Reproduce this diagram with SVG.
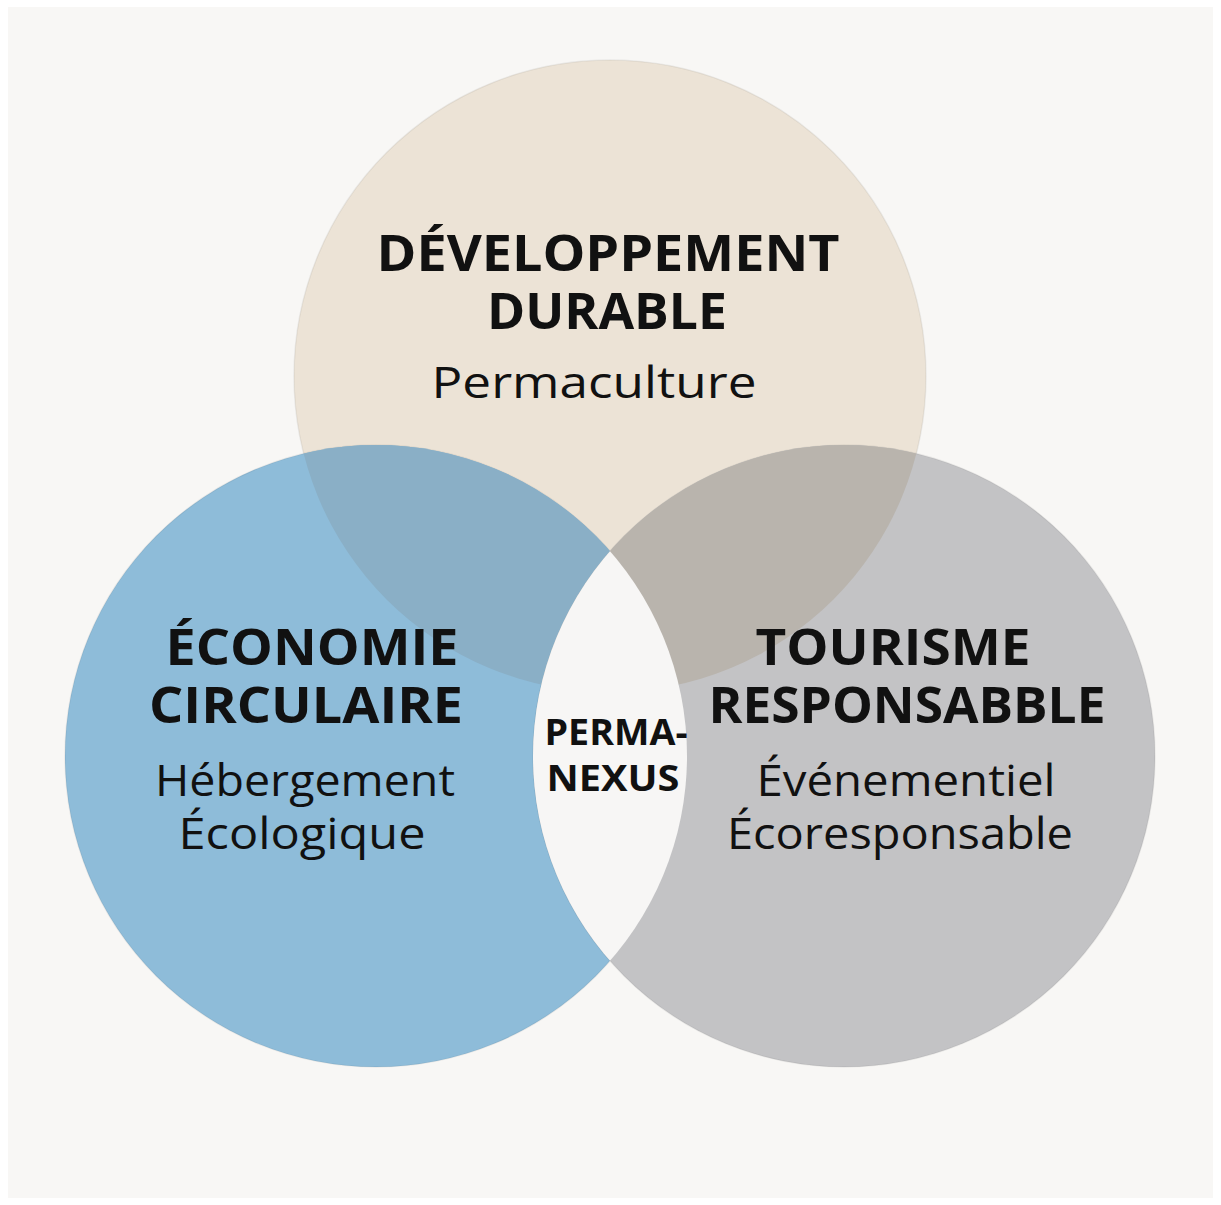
<svg xmlns="http://www.w3.org/2000/svg" width="1221" height="1205" viewBox="0 0 1221 1205">
  <style>
    .title { font-family: "Open Sans", "Liberation Sans", sans-serif; font-weight: 700; font-size: 50px; fill: #111111; text-anchor: middle; }
    .sub { font-family: "Open Sans", "Liberation Sans", sans-serif; font-weight: 400; font-size: 44px; fill: #111111; text-anchor: middle; }
    .core { font-family: "Open Sans", "Liberation Sans", sans-serif; font-weight: 700; font-size: 36px; fill: #111111; text-anchor: middle; }
    .edge { stroke: #000000; stroke-opacity: 0.06; stroke-width: 1.5; }
  </style>
  <defs>
    <clipPath id="clipTop"><circle cx="610" cy="376" r="316"/></clipPath>
    <clipPath id="clipBlue"><circle cx="376" cy="756" r="311"/></clipPath>
  </defs>
  <rect x="0" y="0" width="1221" height="1205" fill="#ffffff"/>
  <rect x="8" y="7" width="1205" height="1191" fill="#f8f7f5"/>

  <g id="circles">
    <circle id="circle-top" class="edge" cx="610" cy="376" r="316" fill="#ece3d6"/>
    <circle id="circle-left" class="edge" cx="376" cy="756" r="311" fill="#8ebcd9"/>
    <circle id="circle-right" class="edge" cx="844" cy="756" r="311" fill="#c3c3c5"/>
    <g clip-path="url(#clipTop)">
      <circle cx="376" cy="756" r="311" fill="#8aafc6"/>
      <circle cx="844" cy="756" r="311" fill="#b9b4ad"/>
    </g>
    <g clip-path="url(#clipBlue)">
      <circle cx="844" cy="756" r="311" fill="#f7f6f5"/>
    </g>
  </g>

  <g id="connectors"/>

  <g id="node-developpement">
    <text class="title" x="608" y="271" textLength="463" lengthAdjust="spacingAndGlyphs">DÉVELOPPEMENT</text>
    <text class="title" x="607" y="329" textLength="240" lengthAdjust="spacingAndGlyphs">DURABLE</text>
    <text class="sub" x="594" y="398" textLength="325" lengthAdjust="spacingAndGlyphs">Permaculture</text>
  </g>

  <g id="node-economie">
    <text class="title" x="312" y="665" textLength="293" lengthAdjust="spacingAndGlyphs">ÉCONOMIE</text>
    <text class="title" x="306" y="723" textLength="314" lengthAdjust="spacingAndGlyphs">CIRCULAIRE</text>
    <text class="sub" x="305" y="796" textLength="300" lengthAdjust="spacingAndGlyphs">Hébergement</text>
    <text class="sub" x="302" y="849" textLength="247" lengthAdjust="spacingAndGlyphs">Écologique</text>
  </g>

  <g id="node-tourisme">
    <text class="title" x="893" y="665" textLength="275" lengthAdjust="spacingAndGlyphs">TOURISME</text>
    <text class="title" x="907" y="723" textLength="397" lengthAdjust="spacingAndGlyphs">RESPONSABBLE</text>
    <text class="sub" x="906" y="796" textLength="299" lengthAdjust="spacingAndGlyphs">Événementiel</text>
    <text class="sub" x="900" y="849" textLength="346" lengthAdjust="spacingAndGlyphs">Écoresponsable</text>
  </g>

  <g id="node-permanexus">
    <text class="core" x="616" y="745" textLength="143" lengthAdjust="spacingAndGlyphs">PERMA-</text>
    <text class="core" x="613" y="791" textLength="133" lengthAdjust="spacingAndGlyphs">NEXUS</text>
  </g>
</svg>
